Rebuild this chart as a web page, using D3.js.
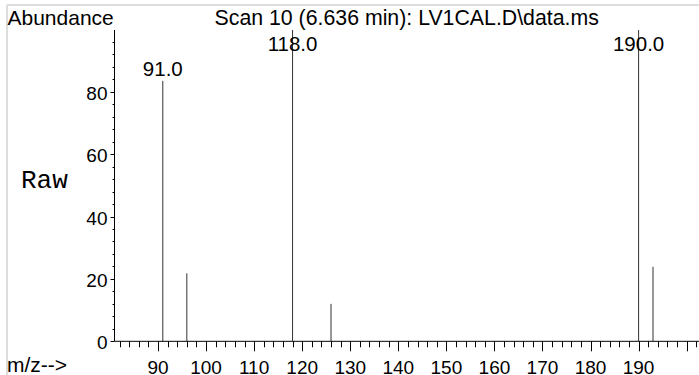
<!DOCTYPE html>
<html><head><meta charset="utf-8">
<script src="https://cdn.jsdelivr.net/npm/d3@7"></script>
<style>
html,body{margin:0;padding:0;background:#fff;}
svg{display:block;}
text{font-family:"Liberation Sans",Arial,sans-serif;fill:#000;}
</style></head>
<body><svg id="c" width="699" height="375"></svg>
<script>
const mz = [91, 96, 118, 126, 190, 193];
const abundance = [83.5, 21.8, 100, 12.0, 100, 23.9];
const labeledPeaks = [91, 118, 190];
const xTickLabels = [90, 100, 110, 120, 130, 140, 150, 160, 170, 180, 190];
const yTickLabels = [0, 20, 40, 60, 80];
const title = "Scan 10 (6.636 min): LV1CAL.D\\data.ms";

const svg = d3.select("#c");
const x = d3.scaleLinear().domain([80.95, 203]).range([114.5, 114.5 + 122.05 * 4.806]);
const y = d3.scaleLinear().domain([0, 99.8]).range([341.3, 30]).clamp(true);

// frame
svg.append("line").attr("x1", 7).attr("x2", 699).attr("y1", 5).attr("y2", 5).attr("stroke", "#ddd").attr("stroke-width", 2);
svg.append("line").attr("x1", 7).attr("x2", 7).attr("y1", 5).attr("y2", 375).attr("stroke", "#ddd").attr("stroke-width", 2);

// x axis
const xAxisG = svg.append("g").attr("transform", `translate(0,${y(0)})`);
xAxisG.append("line").attr("x1", x.range()[0]).attr("x2", 699).attr("stroke", "#000");
const minorX = d3.range(82, 203, 2);
xAxisG.selectAll("line.mt").data(minorX).join("line").attr("class", "mt")
  .attr("x1", d => Math.round(x(d)) + 0.5).attr("x2", d => Math.round(x(d)) + 0.5)
  .attr("y1", 0).attr("y2", d => d % 10 === 0 ? 10 : 6).attr("stroke", "#000");
xAxisG.selectAll("text").data(xTickLabels).join("text")
  .attr("x", d => x(d)).attr("y", 32.7).attr("text-anchor", "middle")
  .attr("font-size", 19).text(d => d);

// y axis
const yAxisG = svg.append("g").attr("transform", `translate(${x.range()[0]},0)`);
yAxisG.append("line").attr("y1", y(99.8)).attr("y2", y(0)).attr("stroke", "#000");
const minorY = d3.range(0, 100, 4);
yAxisG.selectAll("line.mt").data(minorY).join("line").attr("class", "mt")
  .attr("y1", d => Math.round(y(d)) + 0.5).attr("y2", d => Math.round(y(d)) + 0.5)
  .attr("x1", d => d % 20 === 0 ? -4 : -2).attr("x2", 0).attr("stroke", "#000");
yAxisG.selectAll("text").data(yTickLabels).join("text")
  .attr("x", -7).attr("y", d => y(d) + 8).attr("text-anchor", "end")
  .attr("font-size", 19).text(d => d);

// sticks
svg.selectAll("line.stick").data(mz).join("line").attr("class", "stick")
  .attr("x1", d => x(d)).attr("x2", d => x(d))
  .attr("y1", y(0)).attr("y2", (d, i) => y(abundance[i]))
  .attr("stroke", "#333").attr("stroke-width", 1);

// peak labels
svg.selectAll("text.pl").data(labeledPeaks).join("text").attr("class", "pl")
  .attr("x", d => x(d)).attr("y", d => Math.max(y(abundance[mz.indexOf(d)]) - 5, 51))
  .attr("text-anchor", "middle").attr("font-size", 20.5).text(d => d.toFixed(1));

// texts
svg.append("text").attr("x", 7.5).attr("y", 25).attr("font-size", 21).text("Abundance");
svg.append("text").attr("x", 406.7).attr("y", 25).attr("text-anchor", "middle").attr("font-size", 21.3).text(title);
svg.append("text").attr("x", 21).attr("y", 187.7).attr("font-size", 26)
  .style("font-family", "'Courier New','Liberation Mono',monospace").text("Raw");
svg.append("text").attr("x", 7).attr("y", 372).attr("font-size", 21).text("m/z-->");
</script></body></html>
